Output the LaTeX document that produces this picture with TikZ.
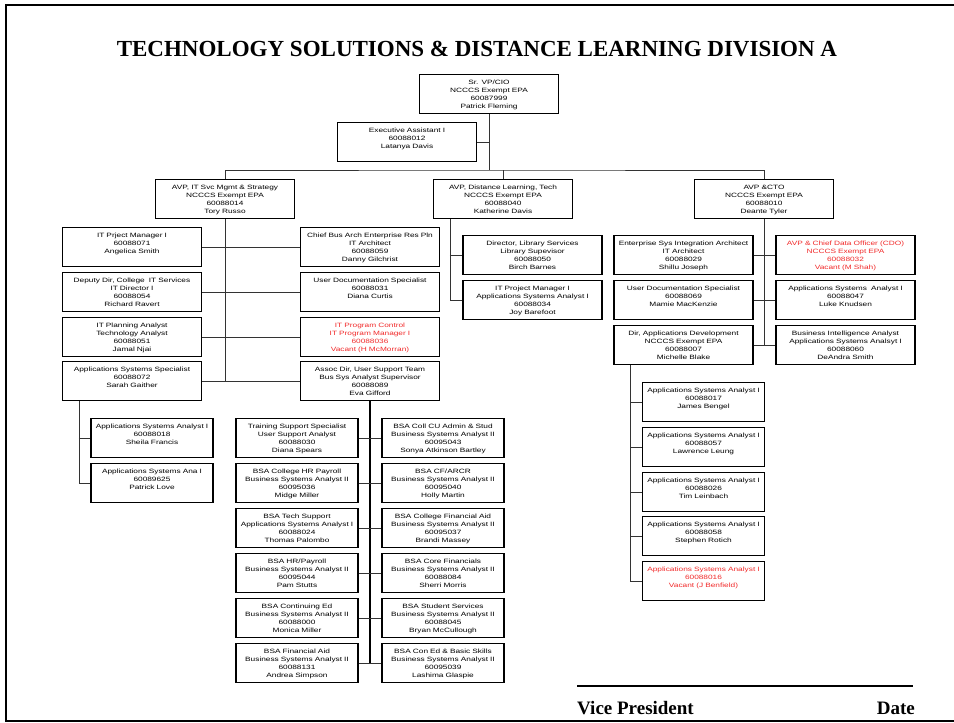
\documentclass[tikz,border=0pt]{standalone}
\usepackage{fontspec}
\setmainfont{Liberation Serif}
\newfontfamily\boxfont[FakeStretch=1.34]{Liberation Sans}
\usepackage{xcolor}
\definecolor{vacant_red}{HTML}{F22B2B}
\definecolor{line_gray}{HTML}{333333}

\begin{document}
\begin{tikzpicture}[x=1pt, y=-1pt,
    box/.style={draw, line width=1.2pt, anchor=north, inner xsep=0pt, inner ysep=1.5pt,
      text width=139pt, align=center, text height=8.5pt, text depth=27.5pt,
      font=\boxfont\fontsize{6.2}{7.9}\selectfont},
    narrowbox/.style={box, text width=122pt},
    vacant/.style={text=vacant_red},
    link/.style={line width=0.8pt, line_gray},
    trunk/.style={line width=1.8pt, black}]
    \useasboundingbox (0,0) rectangle (954,723);
    \fill[white] (0,0) rectangle (954,723);
    \draw[line width=2.5pt] (954,5) -- (6,5) -- (6,721) -- (954,721);

    \node[anchor=base, font=\bfseries\fontsize{23}{27}\selectfont] (title) at (477,56)
      {TECHNOLOGY SOLUTIONS \& DISTANCE LEARNING DIVISION A};

    % Top of the chart - CIO, assistant and the three AVPs
    \node[box] (cio) at (489,74) {Sr. VP/CIO\\NCCCS Exempt EPA\\60087999\\Patrick Fleming};
    \node[box] (ea) at (407,122) {Executive Assistant I\\60088012\\Latanya Davis};
    \node[box] (avpit) at (225,179) {AVP, IT Svc Mgmt \& Strategy\\NCCCS Exempt EPA\\60088014\\Tory Russo};
    \node[box] (avpdl) at (503,179) {AVP, Distance Learning, Tech\\NCCCS Exempt EPA\\60088040\\Katherine Davis};
    \node[box] (avpcto) at (764,179) {AVP \&CTO\\NCCCS Exempt EPA\\60088010\\Deante Tyler};

    \coordinate (bus) at (489,170);
    \draw[link] (cio.south) -- (bus);
    \draw[link] (ea.east) -- (ea.east -| cio.south);
    \draw[link] (avpit.north) |- (bus) -| (avpcto.north);
    \draw[link] (avpdl.north) -- (avpdl.north |- bus);

    % IT Svc Mgmt & Strategy
    \begin{scope}
      \node[box] (itpm) at (132,227) {IT Prject Manager I\\60088071\\Angelica Smith};
      \node[box] (ddir) at (132,272) {Deputy Dir, College \ IT Services\\IT Director I\\60088054\\Richard Ravert};
      \node[box] (plan) at (132,317) {IT Planning Analyst\\Technology Analyst\\60088051\\Jamal Njai};
      \node[box] (appspec) at (132,361) {Applications Systems Specialist\\60088072\\Sarah Gaither};
      \node[box] (cba) at (370,227) {Chief Bus Arch Enterprise Res Pln\\IT Architect\\60088059\\Danny Gilchrist};
      \node[box] (udoc) at (370,272) {User Documentation Specialist\\60088031\\Diana Curtis};
      \node[box, vacant] (ipc) at (370,317) {IT Program Control\\IT Program Manager I\\60088036\\Vacant (H McMorran)};
      \node[box] (assoc) at (370,361) {Assoc Dir, User Support Team\\Bus Sys Analyst Supervisor\\60088089\\Eva Gifford};

      \draw[link] (avpit.south) -- (avpit.south |- appspec.east);
      \draw[link] (itpm.east) -- (cba.west);
      \draw[link] (ddir.east) -- (udoc.west);
      \draw[link] (plan.east) -- (ipc.west);
      \draw[link] (appspec.east) -- (assoc.west);

      % analysts under the applications specialist
      \node[narrowbox] (asa1) at (152,418) {Applications Systems Analyst I\\60088018\\Sheila Francis};
      \node[narrowbox] (asa2) at (152,463) {Applications Systems Ana I\\60089625\\Patrick Love};
      \coordinate (specdrop) at ([xshift=17pt]appspec.south west);
      \draw[link] (specdrop) |- (asa2.west);
      \draw[link] (specdrop |- asa1.west) -- (asa1.west);
    \end{scope}

    % User support team - the BSA boxes
    \begin{scope}
      \node[narrowbox] (tss) at (297,418) {Training Support Specialist\\User Support Analyst\\60088030\\Diana Spears};
      \node[narrowbox] (hrcol) at (297,463) {BSA College HR Payroll\\Business Systems Analyst II\\60095036\\Midge Miller};
      \node[narrowbox] (techsup) at (297,508) {BSA Tech Support\\Applications Systems Analyst I\\60088024\\Thomas Palombo};
      \node[narrowbox] (hrpay) at (297,553) {BSA HR/Payroll\\Business Systems Analyst II\\60095044\\Pam Stutts};
      \node[narrowbox] (conted) at (297,598) {BSA Continuing Ed\\Business Systems Analyst II\\60088000\\Monica Miller};
      \node[narrowbox] (finaid) at (297,643) {BSA Financial Aid\\Business Systems Analyst II\\60088131\\Andrea Simpson};
      \node[narrowbox] (cuadmin) at (443,418) {BSA Coll CU Admin \& Stud\\Business Systems Analyst II\\60095043\\Sonya Atkinson Bartley};
      \node[narrowbox] (cfarcr) at (443,463) {BSA CF/ARCR\\Business Systems Analyst II\\60095040\\Holly Martin};
      \node[narrowbox] (colfin) at (443,508) {BSA College Financial Aid\\Business Systems Analyst II\\60095037\\Brandi Massey};
      \node[narrowbox] (corefin) at (443,553) {BSA Core Financials\\Business Systems Analyst II\\60088084\\Sherri Morris};
      \node[narrowbox] (stusvc) at (443,598) {BSA Student Services\\Business Systems Analyst II\\60088045\\Bryan McCullough};
      \node[narrowbox] (basic) at (443,643) {BSA Con Ed \& Basic Skills\\Business Systems Analyst II\\60095039\\Lashima Glaspie};

      \draw[trunk] (assoc.south) -- (assoc.south |- finaid.east);
      \draw[link] (tss.east) -- (cuadmin.west);
      \draw[link] (hrcol.east) -- (cfarcr.west);
      \draw[link] (techsup.east) -- (colfin.west);
      \draw[link] (hrpay.east) -- (corefin.west);
      \draw[link] (conted.east) -- (stusvc.west);
      \draw[link] (finaid.east) -- (basic.west);
    \end{scope}

    % Distance Learning
    \begin{scope}
      \node[box] (lib) at (532.5,235) {Director, Library Services\\Library Supevisor\\60088050\\Birch Barnes};
      \node[box] (dlpm) at (532.5,280) {IT Project Manager I\\Applications Systems Analyst I\\60088034\\Joy Barefoot};
      \coordinate (dldrop) at ([xshift=17pt]avpdl.south west);
      \draw[link] (dldrop) |- (dlpm.west);
      \draw[link] (dldrop |- lib.west) -- (lib.west);
    \end{scope}

    % CTO
    \begin{scope}
      \node[box] (esia) at (683.5,235) {Enterprise Sys Integration Architect\\IT Architect\\60088029\\Shillu Joseph};
      \node[box] (udocb) at (683.5,280) {User Documentation Specialist\\60088069\\Mamie MacKenzie};
      \node[box] (dad) at (683.5,325) {Dir, Applications Development\\NCCCS Exempt EPA\\60088007\\Michelle Blake};
      \node[box, vacant] (cdo) at (845.5,235) {AVP \& Chief Data Officer (CDO)\\NCCCS Exempt EPA\\60088032\\Vacant (M Shah)};
      \node[box] (luke) at (845.5,280) {Applications Systems \ Analyst I\\60088047\\Luke Knudsen};
      \node[box] (bia) at (845.5,325) {Business Intelligence Analyst\\Applications Systems Analsyt I\\60088060\\DeAndra Smith};

      \draw[link] (avpcto.south) -- (avpcto.south |- bia.west);
      \draw[link] (esia.east) -- (cdo.west);
      \draw[link] (udocb.east) -- (luke.west);
      \draw[link] (dad.east) -- (bia.west);

      % analysts under applications development
      \node[narrowbox] (bengel) at (703.5,382) {Applications Systems Analyst I\\60088017\\James Bengel};
      \node[narrowbox] (leung) at (703.5,427) {Applications Systems Analyst I\\60088057\\Lawrence Leung};
      \node[narrowbox] (leinbach) at (703.5,472) {Applications Systems Analyst I\\60088026\\Tim Leinbach};
      \node[narrowbox] (rotich) at (703.5,516) {Applications Systems Analyst I\\60088058\\Stephen Rotich};
      \node[narrowbox, vacant] (asav) at (703.5,561) {Applications Systems Analyst I\\60088016\\Vacant (J Benfield)};
      \coordinate (daddrop) at ([xshift=17pt]dad.south west);
      \draw[link] (daddrop) |- (asav.west);
      \draw[link] (daddrop |- bengel.west) -- (bengel.west);
      \draw[link] (daddrop |- leung.west) -- (leung.west);
      \draw[link] (daddrop |- leinbach.west) -- (leinbach.west);
      \draw[link] (daddrop |- rotich.west) -- (rotich.west);
    \end{scope}

    % Signature line
    \coordinate (sigl) at (577,686);
    \coordinate (sigr) at (913,686);
    \draw[line width=1.2pt] (sigl) -- (sigr);
    \node[anchor=base west, inner sep=0pt, font=\bfseries\fontsize{19}{22}\selectfont] (vp) at (577,714) {Vice President};
    \node[anchor=base east, inner sep=0pt, font=\bfseries\fontsize{19}{22}\selectfont] (date) at (915,714) {Date};
  \end{tikzpicture}
\end{document}
